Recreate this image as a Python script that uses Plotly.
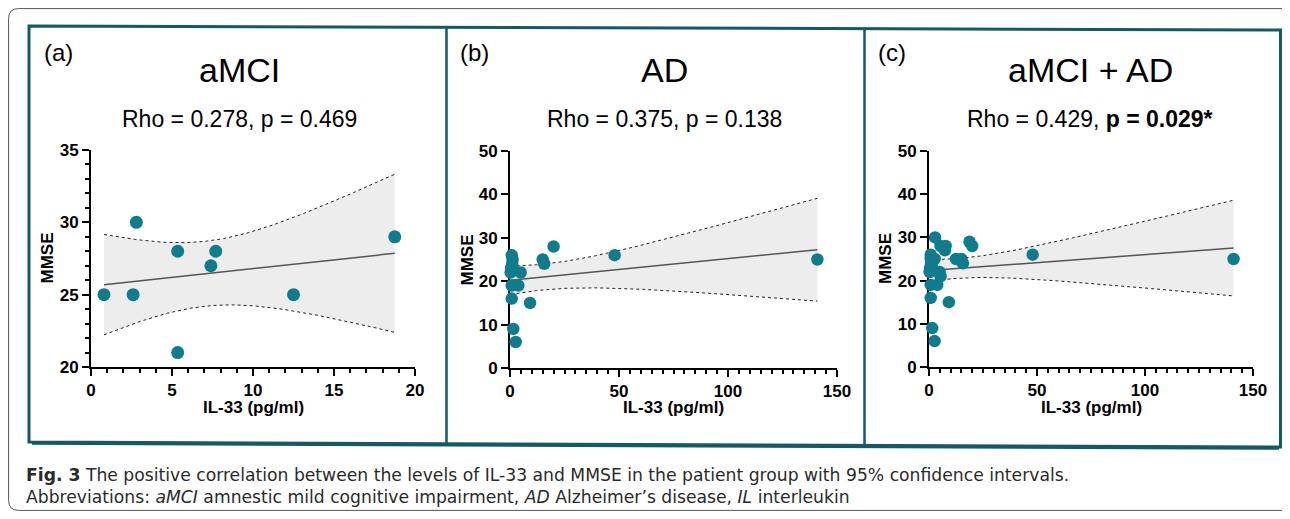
import numpy as np
import plotly.graph_objects as go

# ---------------- data ----------------
amci_il33 = [0.8, 2.6, 2.8, 5.35, 5.35, 7.4, 7.7, 12.5, 18.75]
amci_mmse = [25, 25, 30, 28, 21, 27, 28, 25, 29]

ad_il33 = [0.8, 1.2, 1.0, 0.5, 0.3, 1.5, 4.9, 0.8, 3.8, 0.8, 9.2, 1.5, 2.6,
           15.0, 15.7, 20.0, 48.0, 141.0]
ad_mmse = [26, 25, 24, 23, 22, 23, 22, 19, 19, 16, 15, 9, 6,
           25, 24, 28, 26, 25]

all_il33 = amci_il33 + ad_il33
all_mmse = amci_mmse + ad_mmse

panel_labels = ["(a)", "(b)", "(c)"]
panel_titles = ["aMCI", "AD", "aMCI + AD"]
stats_text = ["Rho = 0.278, p = 0.469",
              "Rho = 0.375, p = 0.138",
              "Rho = 0.429, <b>p = 0.029*</b>"]

# two-sided 95% t quantiles by degrees of freedom
T95 = {7: 2.365, 16: 2.120, 25: 2.060}

# ---------------- style ----------------
OFF = 8                      # page body margin of the html page
W, H = 1290 - 2 * OFF, 519 - 2 * OFF
TEAL_BOX = "#145a66"
MARKER = "#0f7c8e"
FONT = "Liberation Sans"


def fx(px):
    return (px - OFF) / W


def fy(py):
    return 1 - (py - OFF) / H


def fit_band(x, y):
    x = np.asarray(x, float)
    y = np.asarray(y, float)
    n = len(x)
    xb, yb = x.mean(), y.mean()
    sxx = ((x - xb) ** 2).sum()
    slope = ((x - xb) * (y - yb)).sum() / sxx
    icpt = yb - slope * xb
    resid = y - (icpt + slope * x)
    s = np.sqrt((resid ** 2).sum() / (n - 2))
    xs = np.linspace(x.min(), x.max(), 120)
    yh = icpt + slope * xs
    half = T95[n - 2] * s * np.sqrt(1 / n + (xs - xb) ** 2 / sxx)
    return xs, yh, yh - half, yh + half


panels = [
    dict(x=amci_il33, y=amci_mmse, xr=[0, 20], yr=[20, 35], xd=5, xm=1, yd=5, ym=1,
         dom_x=(91, 415), dom_y=(150, 367), msize=13),
    dict(x=ad_il33, y=ad_mmse, xr=[0, 150], yr=[0, 50], xd=50, xm=5, yd=10, ym=None,
         dom_x=(510, 837), dom_y=(151, 368), msize=12.5),
    dict(x=all_il33, y=all_mmse, xr=[0, 150], yr=[0, 50], xd=50, xm=5, yd=10, ym=None,
         dom_x=(929, 1253), dom_y=(151, 367), msize=12.5),
]

fig = go.Figure()
annotations = []

label_x = [42, 458, 876]
title_cx = [239, 664, 1090]
ytitle_x = [47, 467, 885]

for i, p in enumerate(panels):
    sfx = "" if i == 0 else str(i + 1)
    xa, ya = "x" + sfx, "y" + sfx
    xs, yh, lo, hi = fit_band(p["x"], p["y"])

    fig.add_trace(go.Scatter(x=xs, y=lo, mode="lines", xaxis=xa, yaxis=ya,
                             line=dict(color="#222222", width=1, dash="dot"),
                             hoverinfo="skip"))
    fig.add_trace(go.Scatter(x=xs, y=hi, mode="lines", xaxis=xa, yaxis=ya,
                             fill="tonexty", fillcolor="#ededed",
                             line=dict(color="#222222", width=1, dash="dot"),
                             hoverinfo="skip"))
    fig.add_trace(go.Scatter(x=xs, y=yh, mode="lines", xaxis=xa, yaxis=ya,
                             line=dict(color="#555555", width=1.5),
                             hoverinfo="skip"))
    fig.add_trace(go.Scatter(x=p["x"], y=p["y"], mode="markers", xaxis=xa, yaxis=ya,
                             cliponaxis=False,
                             marker=dict(color=MARKER, size=p["msize"], line=dict(width=0))))

    tickfont = dict(family=FONT, size=17, color="black", weight="bold")
    xaxis = dict(domain=[fx(p["dom_x"][0]), fx(p["dom_x"][1])], anchor=ya,
                 range=p["xr"], dtick=p["xd"], tick0=0, showgrid=False, zeroline=False,
                 showline=True, linecolor="black", linewidth=2, automargin=False,
                 ticks="outside", ticklen=7, tickwidth=2, tickcolor="black",
                 tickfont=tickfont, layer="below traces",
                 minor=dict(ticks="outside", ticklen=4, tickwidth=1.5, tickcolor="black",
                            dtick=p["xm"], tick0=0, showgrid=False))
    ymin = dict(ticks="outside", ticklen=4, tickwidth=1.5, tickcolor="black",
                dtick=p["ym"], tick0=0, showgrid=False) if p["ym"] else dict(ticks="")
    yaxis = dict(domain=[fy(p["dom_y"][1]), fy(p["dom_y"][0])], anchor=xa,
                 range=p["yr"], dtick=p["yd"], tick0=0, showgrid=False, zeroline=False,
                 showline=True, linecolor="black", linewidth=2, automargin=False,
                 ticks="outside", ticklen=7, tickwidth=2, tickcolor="black",
                 tickfont=tickfont, layer="below traces", minor=ymin)
    fig.update_layout(**{"xaxis" + sfx: xaxis, "yaxis" + sfx: yaxis})

    # axis titles
    cx = (p["dom_x"][0] + p["dom_x"][1]) / 2
    annotations.append(dict(x=fx(cx), y=fy(407), xref="paper", yref="paper",
                            text="<b>IL-33 (pg/ml)</b>", showarrow=False,
                            xanchor="center", yanchor="middle",
                            font=dict(family=FONT, size=17, color="black")))
    cy = (p["dom_y"][0] + p["dom_y"][1]) / 2
    annotations.append(dict(x=fx(ytitle_x[i]), y=fy(cy), xref="paper", yref="paper",
                            text="<b>MMSE</b>", showarrow=False, textangle=-90,
                            xanchor="center", yanchor="middle",
                            font=dict(family=FONT, size=17, color="black")))
    # panel label, title, statistics
    annotations.append(dict(x=fx(label_x[i]), y=fy(52), xref="paper", yref="paper",
                            text=panel_labels[i], showarrow=False,
                            xanchor="left", yanchor="middle",
                            font=dict(family=FONT, size=24, color="black")))
    annotations.append(dict(x=fx(title_cx[i]), y=fy(70), xref="paper", yref="paper",
                            text=panel_titles[i], showarrow=False,
                            xanchor="center", yanchor="middle",
                            font=dict(family=FONT, size=34, color="black")))
    annotations.append(dict(x=fx(title_cx[i]), y=fy(119), xref="paper", yref="paper",
                            text=stats_text[i], showarrow=False,
                            xanchor="center", yanchor="middle",
                            font=dict(family=FONT, size=23, color="black")))

# caption
CAP_FONT = "DejaVu Sans"
annotations.append(dict(x=fx(24), y=fy(475), xref="paper", yref="paper",
                        text="<b>Fig. 3</b> The positive correlation between the levels of IL-33 and MMSE "
                             "in the patient group with 95% confidence intervals.",
                        showarrow=False, xanchor="left", yanchor="middle",
                        font=dict(family=CAP_FONT, size=17.2, color="#2a2a2a")))
annotations.append(dict(x=fx(24), y=fy(497), xref="paper", yref="paper",
                        text="Abbreviations: <i>aMCI</i> amnestic mild cognitive impairment, "
                             "<i>AD</i> Alzheimer’s disease, <i>IL</i> interleukin",
                        showarrow=False, xanchor="left", yanchor="middle",
                        font=dict(family=CAP_FONT, size=17.2, color="#2a2a2a")))


def P(px, py):
    return f"{fx(px):.5f},{fy(py):.5f}"


# frames
r = 10
x0, y0, x1, y1 = 8.6, 8.6, 1310, 510.4
outer = (f"M {P(x0, y0 + r)} Q {P(x0, y0)} {P(x0 + r, y0)} "
         f"L {P(x1, y0)} L {P(x1, y1)} L {P(x0 + r, y1)} "
         f"Q {P(x0, y1)} {P(x0, y1 - r)} Z")
box = f"M {P(29, 26)} L {P(1280.5, 30)} L {P(1280.5, 447)} L {P(29, 442)} Z"
div1 = f"M {P(446.5, 27.3)} L {P(446.5, 443.6)}"
div2 = f"M {P(864.5, 28.6)} L {P(864.5, 445)}"
bottom = f"M {P(32, 443)} L {P(1279, 448)}"
shapes = [
    dict(type="path", path=outer, xref="paper", yref="paper",
         line=dict(color="#555555", width=1), layer="below"),
    dict(type="path", path=bottom, xref="paper", yref="paper",
         line=dict(color=TEAL_BOX, width=3.5)),
    dict(type="path", path=box, xref="paper", yref="paper",
         line=dict(color=TEAL_BOX, width=3)),
    dict(type="path", path=div1, xref="paper", yref="paper",
         line=dict(color=TEAL_BOX, width=2.5)),
    dict(type="path", path=div2, xref="paper", yref="paper",
         line=dict(color=TEAL_BOX, width=2.5)),
]

fig.update_layout(width=W, height=H,
                  margin=dict(l=0, r=0, t=0, b=0, pad=0, autoexpand=False),
                  paper_bgcolor="white", plot_bgcolor="white", showlegend=False,
                  annotations=annotations, shapes=shapes,
                  font=dict(family=FONT, color="black"))

fig.write_html("out.html")
